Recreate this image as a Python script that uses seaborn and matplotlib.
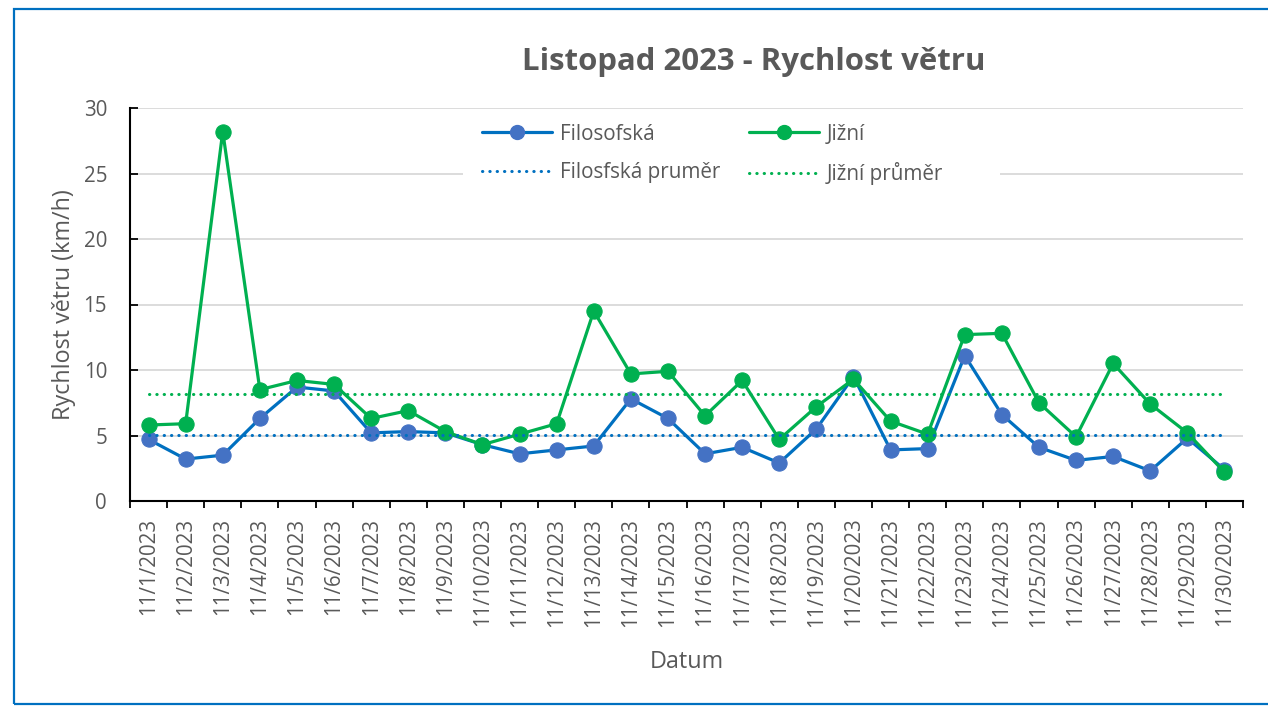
import matplotlib
matplotlib.use("Agg")
import matplotlib.pyplot as plt
from matplotlib.lines import Line2D
from matplotlib.patches import Rectangle
import numpy as np
import pandas as pd
import seaborn as sns

# November 2023 daily wind speeds (km/h) at two stations
dates = [f"11/{d}/2023" for d in range(1, 31)]
filosofska = [4.7, 3.2, 3.5, 6.3, 8.7, 8.4, 5.2, 5.3, 5.2, 4.3,
              3.6, 3.9, 4.2, 7.8, 6.3, 3.6, 4.1, 2.9, 5.5, 9.5,
              3.9, 4.0, 11.1, 6.6, 4.1, 3.1, 3.4, 2.3, 4.8, 2.4]
jizni = [5.8, 5.9, 28.2, 8.5, 9.2, 8.9, 6.3, 6.9, 5.3, 4.3,
         5.1, 5.9, 14.5, 9.7, 9.9, 6.5, 9.2, 4.7, 7.2, 9.3,
         6.1, 5.1, 12.7, 12.8, 7.5, 4.9, 10.5, 7.4, 5.2, 2.2]
y_ticks = [0, 5, 10, 15, 20, 25, 30]

TEXT = "#595959"
BLUE_LINE = "#0070C0"
BLUE_MARK = "#4472C4"
GREEN = "#00B050"
DOTS = (0, (0.1, 2.3))

sns.set_theme(style="white")
plt.rcParams["font.family"] = ["Open Sans", "DejaVu Sans"]

df = pd.DataFrame({
    "pos": np.arange(len(dates)),
    "Filosofská": filosofska,
    "Jižní": jizni,
})
df["Filosfská pruměr"] = np.mean(filosofska)
df["Jižní průměr"] = np.mean(jizni)

W, H = 1268, 707
fig = plt.figure(figsize=(W / 100, H / 100), dpi=100)
ax = fig.add_axes([130 / W, 1 - 501 / H, 1113 / W, 393 / H])

# gridlines
for v in y_ticks[1:]:
    ax.axhline(v, color="#D9D9D9", lw=1.3, zorder=0)

sns.lineplot(data=df, x="pos", y="Filosofská", ax=ax, color=BLUE_LINE, lw=2.3,
             marker="o", markersize=11, markerfacecolor=BLUE_MARK,
             markeredgecolor=BLUE_MARK, zorder=3)
sns.lineplot(data=df, x="pos", y="Jižní", ax=ax, color=GREEN, lw=2.3,
             marker="o", markersize=11, markerfacecolor=GREEN,
             markeredgecolor=GREEN, zorder=4)
sns.lineplot(data=df, x="pos", y="Filosfská pruměr", ax=ax, color=BLUE_LINE,
             lw=2.2, linestyle=DOTS, dash_capstyle="round", zorder=5)
sns.lineplot(data=df, x="pos", y="Jižní průměr", ax=ax, color=GREEN,
             lw=2.2, linestyle=DOTS, dash_capstyle="round", zorder=5)

ax.set_xlim(-0.5, len(dates) - 0.5)
ax.set_ylim(0, 30)
ax.set_yticks(y_ticks)
ax.set_yticklabels([str(v) for v in y_ticks], color=TEXT, fontsize=14.8)
ax.set_xticks(np.arange(len(dates)))
ax.set_xticklabels(dates, rotation=90, color=TEXT, fontsize=14.8)
ax.set_xticks(np.arange(len(dates) + 1) - 0.5, minor=True)
ax.tick_params(axis="x", which="major", length=0, pad=12)
ax.tick_params(axis="x", which="minor", length=5, width=1.3, color="black",
               direction="out", bottom=True)
ax.tick_params(axis="y", which="major", length=5.5, width=1.3, color="black",
               direction="in", left=True, pad=16.5)

for side in ["top", "right"]:
    ax.spines[side].set_visible(False)
for side in ["left", "bottom"]:
    ax.spines[side].set_color("black")
    ax.spines[side].set_linewidth(1.5)

ax.set_xlabel("Datum", color=TEXT, fontsize=16.8)
ax.set_ylabel("Rychlost větru (km/h)", color=TEXT, fontsize=16.8)
ax.xaxis.set_label_coords(0.5, -(650 - 501) / 393)
ax.yaxis.set_label_coords(-(130 - 76) / 1113, 0.5)

fig.text(754 / W, 1 - 62 / H, "Listopad 2023 - Rychlost větru",
         ha="center", va="center", fontsize=22.4, fontweight="bold", color=TEXT)

# white legend backdrop over the gridlines
ax.add_patch(Rectangle(((463 - 130) / 1113, (501 - 192) / 393),
                       (1000 - 463) / 1113, (192 - 112) / 393,
                       transform=ax.transAxes, facecolor="white",
                       edgecolor="none", zorder=1))

handles = [
    Line2D([], [], color=BLUE_LINE, lw=2.3, marker="o", markersize=10,
           markerfacecolor=BLUE_MARK, markeredgecolor=BLUE_MARK),
    Line2D([], [], color=BLUE_LINE, lw=2.2, linestyle=DOTS,
           dash_capstyle="round"),
    Line2D([], [], color=GREEN, lw=2.3, marker="o", markersize=10,
           markerfacecolor=GREEN, markeredgecolor=GREEN),
    Line2D([], [], color=GREEN, lw=2.2, linestyle=DOTS,
           dash_capstyle="round"),
]
labels = ["Filosofská", "Filosfská pruměr", "Jižní", "Jižní průměr"]
leg = ax.legend(handles, labels, ncol=2, loc="upper left",
                bbox_to_anchor=((463.5 - 130) / 1113, (501 - 105) / 393),
                frameon=False, fontsize=14.9, handlelength=3.4,
                handletextpad=0.35, columnspacing=1.4, labelspacing=0.85,
                borderpad=0.4)
for t in leg.get_texts():
    t.set_color(TEXT)

# chart frame
fig.patches.append(Rectangle((14 / W, 1 - 704 / H), 1.1, (704 - 9) / H,
                             transform=fig.transFigure, fill=False,
                             edgecolor="#0070C0", lw=1.6))

fig.savefig("out.png", dpi=100)
